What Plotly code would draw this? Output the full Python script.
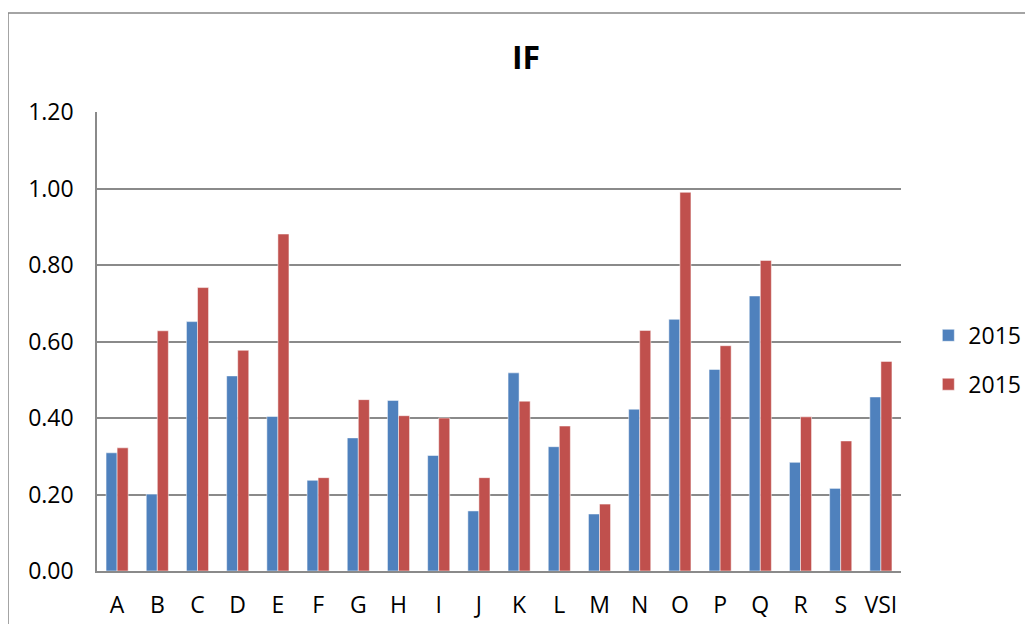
import plotly.graph_objects as go

CATEGORIES = ["A", "B", "C", "D", "E", "F", "G", "H", "I", "J",
              "K", "L", "M", "N", "O", "P", "Q", "R", "S", "VSI"]
SERIES_1 = [0.309, 0.201, 0.652, 0.510, 0.404, 0.237, 0.348, 0.446, 0.302, 0.157,
            0.518, 0.325, 0.149, 0.423, 0.658, 0.527, 0.719, 0.284, 0.216, 0.455]
SERIES_2 = [0.322, 0.628, 0.741, 0.577, 0.881, 0.244, 0.448, 0.406, 0.400, 0.244,
            0.444, 0.379, 0.175, 0.629, 0.990, 0.589, 0.812, 0.403, 0.340, 0.548]
NAMES = ["2015", "2015"]
Y_TICKS = [0.0, 0.2, 0.4, 0.6, 0.8, 1.0, 1.2]

FONT = "Open Sans, Noto Sans, sans-serif"
GRID = "#8a8a8a"

fig = go.Figure()
for name, vals, color, grp in [(NAMES[0], SERIES_1, "#4F81BD", "a"),
                               (NAMES[1], SERIES_2, "#C0504D", "b")]:
    fig.add_trace(go.Bar(
        x=CATEGORIES, y=vals, name=name, legendgroup=grp,
        marker=dict(color=color, line=dict(color="rgba(255,255,255,0.5)", width=1)),
    ))

# chart border (runs off the right/bottom edge like the source)
fig.add_shape(type="rect", xref="paper", yref="paper",
              x0=(8 - 97) / 804, x1=1.35, y0=-0.3, y1=(571 - 13) / 459,
              line=dict(color="#878787", width=1.5), layer="below")

# page body has an 8px margin all round; keep the figure inside the window so
# no scrollbars show up
W, H = 1017, 616
fig.update_layout(
    width=W, height=H,
    margin=dict(l=89, r=124, t=104, b=53, autoexpand=False),
    paper_bgcolor="white", plot_bgcolor="white",
    barmode="group", bargap=0.45, bargroupgap=0,
    font=dict(family=FONT, size=23, color="black"),
    title=dict(text="<b>IF</b>", x=(526 - 8) / W, xanchor="center", xref="container",
               y=1 - (58 - 8) / H, yanchor="middle", yref="container",
               font=dict(size=32, family=FONT, color="black")),
    legend=dict(x=1.034, xanchor="left", y=0.46, yanchor="middle",
                font=dict(size=23), tracegroupgap=16, bgcolor="rgba(0,0,0,0)"),
    xaxis=dict(showgrid=False, showline=True, linecolor=GRID, linewidth=1.5,
               ticks="", ticklabelstandoff=13, tickfont=dict(size=23)),
    yaxis=dict(range=[0, 1.2], tickvals=Y_TICKS, tickformat=".2f",
               showgrid=True, gridcolor=GRID, gridwidth=1.5,
               showline=True, linecolor=GRID, linewidth=1.5, zeroline=False,
               ticks="", ticklabelstandoff=17, tickfont=dict(size=23)),
)

fig.write_html("out.html")
